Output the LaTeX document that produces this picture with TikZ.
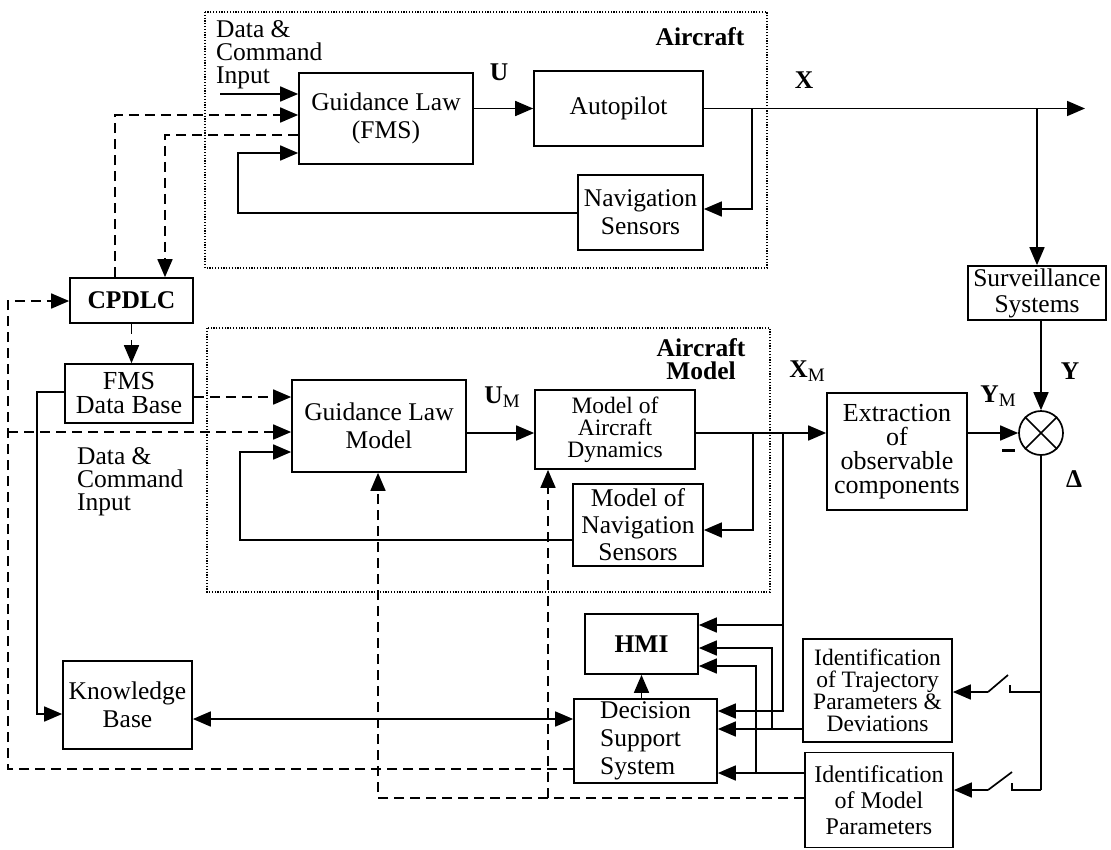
\documentclass[tikz,border=0pt]{standalone}
\usepackage{fontspec}
\setmainfont{Liberation Serif}
\usetikzlibrary{arrows.meta}
\newcommand{\fsA}{\fontsize{25.5}{28}\selectfont}
\newcommand{\fsB}{\fontsize{23.5}{22}\selectfont}
\newcommand{\fsC}{\fontsize{26}{24}\selectfont}
\newcommand{\subM}{\raisebox{-0.35ex}{\mdseries\fontsize{19}{19}\selectfont M}}
\begin{document}
\begin{tikzpicture}[x=1pt,y=-1pt,
 box/.style={draw, line width=1.7pt, inner sep=0pt, align=center, font=\fsA},
 lbl/.style={inner sep=0pt, font=\fsA\bfseries},
 txt/.style={inner sep=0pt, align=left, font=\fontsize{25.5}{23}\selectfont},
 conn/.style={line width=1.7pt},
 arr/.style={conn, -{Triangle[length=18pt,width=15pt]}},
 darr/.style={arr, dash pattern=on 10pt off 6pt},
 dotbox/.style={line width=1.5pt, dash pattern=on 1.2pt off 1.6pt},
]
\useasboundingbox (0,0) rectangle (1111,849);
\fill[white] (0,0) rectangle (1111,849);

% group frames
\draw[dotbox] (205,12) rectangle (767,268);
\draw[dotbox] (207,328) rectangle (770,592);
\node[lbl] (lA) at (700,37) {Aircraft};
\node[lbl, align=center, font=\fontsize{25.5}{23}\selectfont\bfseries] (lAM) at (701,359) {Aircraft\\Model};

% blocks
\node[box, minimum width=174pt, minimum height=91pt] (guid) at (386,118.5) {Guidance Law\\(FMS)};
\node[box, minimum width=169pt, minimum height=75pt] (auto) at (618.5,108.5) {Autopilot};
\node[box, minimum width=125pt, minimum height=75pt] (nav) at (640.5,212.5) {Navigation\\Sensors};
\node[box, minimum width=123pt, minimum height=45pt, font=\fsA\bfseries] (cpdlc) at (131.5,300.5) {CPDLC};
\node[box, minimum width=128pt, minimum height=59pt, font=\fsC] (fms) at (129,393.5) {FMS\\Data Base};
\node[box, minimum width=174pt, minimum height=92pt] (gmod) at (379,426) {Guidance Law\\Model};
\node[box, minimum width=160pt, minimum height=79pt, font=\fsB] (dyn) at (615,429.5) {Model of\\Aircraft\\Dynamics};
\node[box, minimum width=130pt, minimum height=82pt, font=\fontsize{25.5}{27}\selectfont] (mns) at (638,525) {Model of\\Navigation\\Sensors};
\node[box, minimum width=140pt, minimum height=117pt, font=\fsC] (ext) at (897,451.5) {Extraction\\of\\observable\\components};
\node[box, minimum width=138pt, minimum height=54pt, font=\fontsize{25.5}{26}\selectfont] (surv) at (1037,293) {Surveillance\\Systems};
\node[draw, circle, line width=1.7pt, minimum size=44pt, inner sep=0pt] (circ) at (1041,433) {};
\draw[conn] (circ.north west) -- (circ.south east) (circ.north east) -- (circ.south west);
\node[box, minimum width=113pt, minimum height=60pt, font=\fsA\bfseries] (hmi) at (641.5,644) {HMI};
\node[box, minimum width=143pt, minimum height=84pt, align=left] (dss) at (645.5,741) {Decision\\Support\\System};
\node[box, minimum width=129pt, minimum height=88pt] (kb) at (127.5,705) {Knowledge\\Base};
\node[box, minimum width=149pt, minimum height=103pt, font=\fsB] (idt) at (877.5,690.5) {Identification\\of Trajectory\\Parameters \&\\Deviations};
\node[box, minimum width=148pt, minimum height=95pt, font=\fontsize{24}{26}\selectfont] (idm) at (879,800) {Identification\\of Model\\Parameters};

% free texts
\node[txt, anchor=north west] (dc1) at (216,20) {Data \&\\Command\\Input};
\node[txt, anchor=north west] (dc2) at (77,447) {Data \&\\Command\\Input};
\node[lbl] (lU) at (499,72) {U};
\node[lbl] (lX) at (804,80) {X};
\node[lbl] (lUM) at (502,397) {U\subM};
\node[lbl] (lXM) at (807,371) {X\subM};
\node[lbl] (lYM) at (998,396) {Y\subM};
\node[lbl] (lY) at (1070,371) {Y};
\node[lbl] (lD) at (1074,479) {Δ};
\draw[line width=3pt] (1002,450) -- (1015,450);

% aircraft loop
\coordinate (dci) at (220,94);
\draw[arr] (dci) -- (dci -| guid.west);
\coordinate (p1) at (115,115);
\draw[darr] (cpdlc.north -| p1) |- (p1 -| guid.west);
\coordinate (p2) at (165,135);
\draw[darr] (p2 -| guid.west) -| (cpdlc.north -| p2);
\draw[arr] (guid.east |- auto.west) -- (auto.west);
\coordinate (xend) at (1085,108.5);
\draw[arr] (auto.east) -- (xend);
\coordinate (b1) at (752,108.5);
\coordinate (b1n) at (752,209);
\draw[arr] (b1) -- (b1n) -- (b1n -| nav.east);
\coordinate (b2) at (1037,108.5);
\draw[arr] (b2) -- (surv.north);
\coordinate (f1) at (238,213);
\coordinate (f1b) at (238,153);
\draw[arr] (f1 -| nav.west) -- (f1) -- (f1b) -- (f1b -| guid.west);

% left column
\draw[darr] (cpdlc.south) -- (cpdlc.south |- fms.north);
\coordinate (k1) at (37,392);
\coordinate (k2) at (37,714);
\draw[arr] (k1 -| fms.west) -- (k1) -- (k2) -- (k2 -| kb.west);
\coordinate (g1) at (0,397);
\draw[darr] (g1 -| fms.east) -- (g1 -| gmod.west);
\coordinate (g2) at (8,432);
\draw[darr] (g2) -- (g2 -| gmod.west);

% model loop
\coordinate (um) at (0,433);
\draw[arr] (um -| gmod.east) -- (um -| dyn.west);
\draw[arr] (um -| dyn.east) -- (um -| ext.west);
\coordinate (b3) at (753,433);
\coordinate (b3s) at (753,530);
\draw[arr] (b3) -- (b3s) -- (b3s -| mns.east);
\coordinate (b4) at (783,433);
\coordinate (b4s) at (783,711);
\draw[arr] (b4) -- (b4s) -- (b4s -| dss.east);
\coordinate (b4h) at (783,625);
\draw[arr] (b4h) -- (b4h -| hmi.east);
\coordinate (m1) at (240,540);
\coordinate (m2) at (240,452);
\draw[arr] (m1 -| mns.west) -- (m1) -- (m2) -- (m2 -| gmod.west);

% comparator
\draw[arr] (ext.east |- circ.west) -- (circ.west);
\draw[arr] (circ.north |- surv.south) -- (circ.north);
\coordinate (s0) at (1041,790);
\draw[conn] (circ.south) -- (s0);
\coordinate (s1a) at (1041,692);
\coordinate (s1b) at (1010,692);
\coordinate (s1c) at (1010,685);
\coordinate (s1d) at (988,692);
\coordinate (s1e) at (1008,675);
\draw[conn] (s1a) -- (s1b) -- (s1c);
\draw[conn] (s1d) -- (s1e);
\draw[arr] (s1d) -- (s1d -| idt.east);
\coordinate (s2b) at (1012,790);
\coordinate (s2c) at (1012,783);
\coordinate (s2d) at (988,790);
\coordinate (s2e) at (1012,772);
\draw[conn] (s0) -- (s2b) -- (s2c);
\draw[conn] (s2d) -- (s2e);
\draw[arr] (s2d) -- (s2d -| idm.east);

% identification to DSS / HMI
\coordinate (t1) at (772,729);
\coordinate (t2) at (772,648);
\draw[arr] (t1 -| idt.west) -- (t1 -| dss.east);
\draw[arr] (t1) -- (t2) -- (t2 -| hmi.east);
\coordinate (u1) at (756,773);
\coordinate (u2) at (756,666);
\draw[arr] (u1 -| idm.west) -- (u1 -| dss.east);
\draw[arr] (u1) -- (u2) -- (u2 -| hmi.east);
\draw[arr] (hmi.south |- dss.north) -- (hmi.south);

% knowledge base
\coordinate (kd) at (0,719);
\draw[conn, {Triangle[length=18pt,width=15pt]}-{Triangle[length=18pt,width=15pt]}] (kd -| kb.east) -- (kd -| dss.west);

% DSS to CPDLC
\coordinate (d1) at (8,769);
\coordinate (d2) at (8,301);
\draw[darr] (d1 -| dss.west) -- (d1) -- (d2) -- (d2 -| cpdlc.west);

% model parameter feedback
\coordinate (e1) at (378,798);
\coordinate (e2) at (548,798);
\draw[darr] (e1 -| idm.west) -- (e1) -- (e1 |- gmod.south);
\draw[darr] (e2) -- (e2 |- dyn.south);
\end{tikzpicture}
\end{document}
